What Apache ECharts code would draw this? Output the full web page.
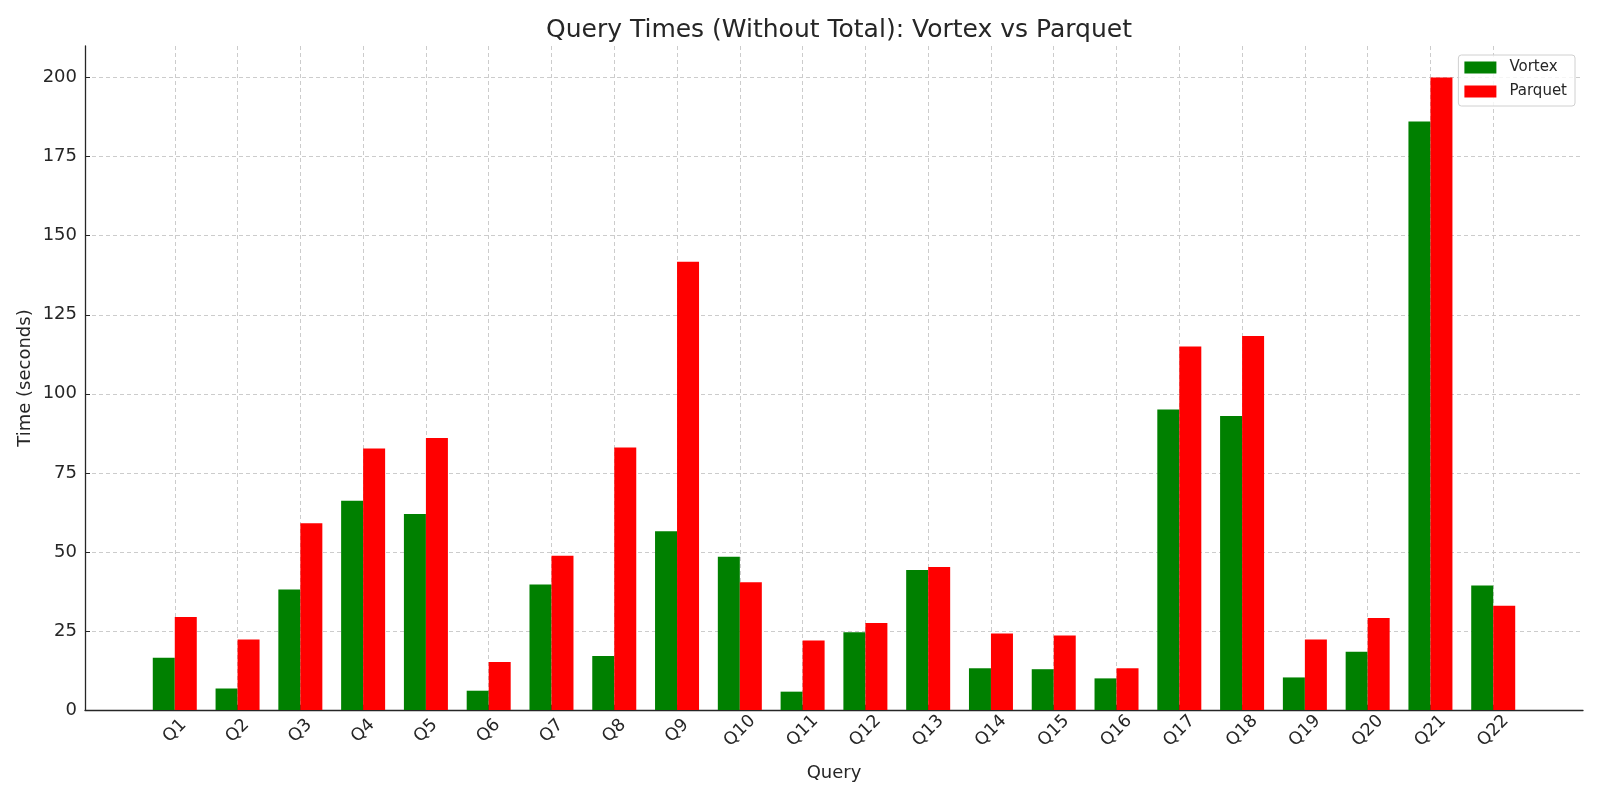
<!DOCTYPE html>
<html>
<head>
<meta charset="utf-8">
<script src="https://cdn.jsdelivr.net/npm/echarts@6/dist/echarts.min.js"></script>
<style>
  html, body { margin: 0; padding: 0; background: #fff; }
  #chart { width: 1600px; height: 800px; }
</style>
</head>
<body>
<div id="chart"></div>
<script>
// Data
const queries = ['Q1', 'Q2', 'Q3', 'Q4', 'Q5', 'Q6', 'Q7', 'Q8', 'Q9', 'Q10', 'Q11',
    'Q12', 'Q13', 'Q14', 'Q15', 'Q16', 'Q17', 'Q18', 'Q19', 'Q20', 'Q21', 'Q22'];
const vortexTimes = [16.5, 6.8, 38.1, 66.2, 62.0, 6.1, 39.7, 17.1, 56.5, 48.5, 5.8,
    24.6, 44.3, 13.2, 12.9, 10.0, 95.0, 93.0, 10.3, 18.4, 186.1, 39.4];
const parquetTimes = [29.4, 22.3, 59.1, 82.7, 86.0, 15.2, 48.8, 83.0, 141.8, 40.4, 22.0,
    27.5, 45.2, 24.2, 23.6, 13.2, 115.0, 118.3, 22.3, 29.1, 200.0, 33.0];
const yTicks = [0, 25, 50, 75, 100, 125, 150, 175, 200];

const tickPositions = queries.map((q, i) => i);
const font = 'DejaVu Sans';
const textColor = '#262626';
const gridLine = { color: '#cccccc', type: [4, 3], width: 1 };

const chart = echarts.init(document.getElementById('chart'));
const option = {
    animation: false,
    backgroundColor: '#fff',
    title: {
        text: 'Query Times (Without Total): Vortex vs Parquet',
        left: 834,
        textAlign: 'center',
        top: 13,
        textStyle: {
            fontFamily: font,
            fontSize: 25,
            fontWeight: 'normal',
            color: textColor
        }
    },
    legend: {
        orient: 'vertical',
        right: 25,
        top: 55,
        icon: 'rect',
        itemWidth: 32,
        itemHeight: 12,
        itemGap: 9,
        padding: [5, 8, 7, 6],
        borderColor: '#d0d0d0',
        borderWidth: 1,
        borderRadius: 3,
        backgroundColor: 'rgba(255,255,255,0.8)',
        textStyle: {
            fontFamily: font,
            fontSize: 15,
            color: textColor,
            padding: [0, 0, 0, 8]
        },
        data: ['Vortex', 'Parquet']
    },
    grid: {
        left: 85,
        right: 17,
        top: 46,
        bottom: 90
    },
    xAxis: {
        type: 'value',
        min: -1.43,
        max: queries.length - 1 + 1.43,
        name: 'Query',
        nameLocation: 'middle',
        nameGap: 54,
        nameMoveOverlap: false,
        nameTextStyle: {
            fontFamily: font,
            fontSize: 18,
            color: textColor
        },
        axisLine: { onZero: false, lineStyle: { color: textColor, width: 1.3 } },
        axisTick: {
            show: true,
            inside: true,
            customValues: tickPositions,
            length: 5,
            lineStyle: { color: textColor }
        },
        axisLabel: {
            customValues: tickPositions,
            formatter: v => queries[Math.round(v)],
            rotate: 45,
            align: 'center',
            verticalAlign: 'middle',
            margin: 21,
            fontFamily: font,
            fontSize: 17.5,
            color: textColor
        },
        splitLine: { show: true, lineStyle: gridLine }
    },
    yAxis: {
        type: 'value',
        min: 0,
        max: 210,
        interval: 25,
        name: 'Time (seconds)',
        nameLocation: 'middle',
        nameGap: 51,
        nameMoveOverlap: false,
        nameTextStyle: {
            fontFamily: font,
            fontSize: 18,
            color: textColor
        },
        axisLine: { show: true, onZero: false, lineStyle: { color: textColor, width: 1.3 } },
        axisTick: {
            show: true,
            inside: true,
            customValues: yTicks,
            length: 5,
            lineStyle: { color: textColor }
        },
        axisLabel: {
            customValues: yTicks,
            margin: 8,
            fontFamily: font,
            fontSize: 18,
            color: textColor
        },
        splitLine: { show: true, lineStyle: gridLine }
    },
    series: [
        {
            name: 'Vortex',
            type: 'bar',
            barWidth: 22,
            barGap: '0%',
            itemStyle: { color: '#008000' },
            data: vortexTimes.map((v, i) => [i, v])
        },
        {
            name: 'Parquet',
            type: 'bar',
            barWidth: 22,
            barGap: '0%',
            itemStyle: { color: '#ff0000' },
            data: parquetTimes.map((v, i) => [i, v])
        }
    ]
};
chart.setOption(option);
window.addEventListener('resize', function() {
    chart.resize();
});
</script>
</body>
</html>
